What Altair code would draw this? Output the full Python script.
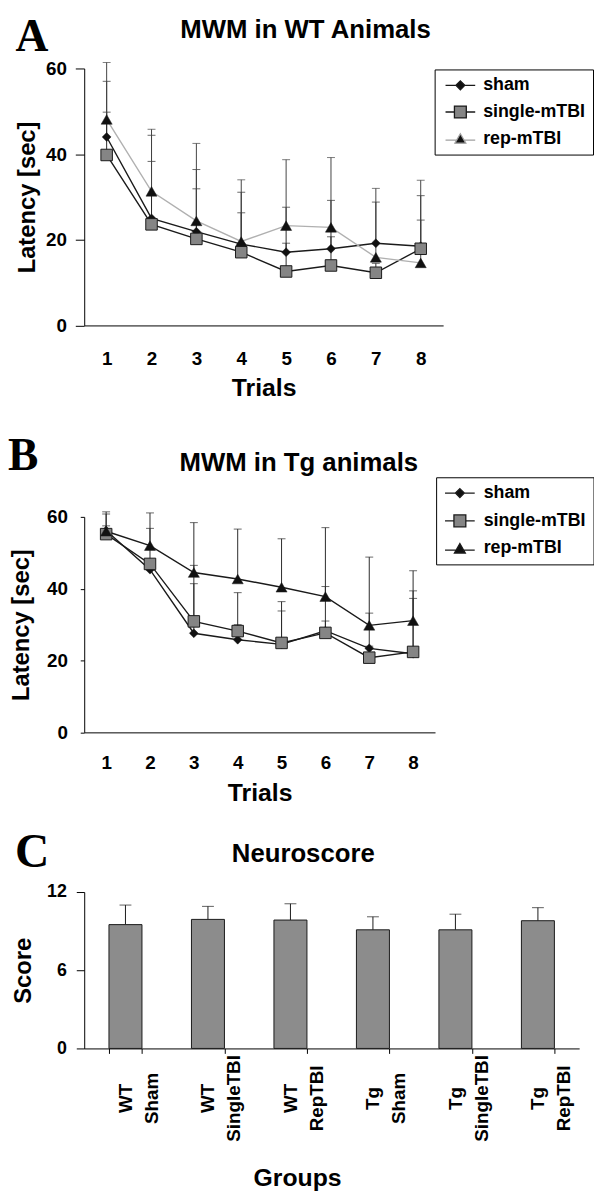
import altair as alt
import pandas as pd

# ---------------- data ----------------
trials = [1, 2, 3, 4, 5, 6, 7, 8]
series = ["sham", "single-mTBI", "rep-mTBI"]

wt_sham = [44.0, 25.0, 21.9, 19.0, 17.1, 17.9, 19.2, 18.5]
wt_single = [39.8, 23.6, 20.2, 17.1, 12.6, 14.0, 12.3, 17.9]
wt_rep = [48.1, 31.3, 24.4, 19.6, 23.3, 22.9, 15.9, 14.6]
wt_sham_up = [57.0, 38.3, 36.4, 31.1, 27.6, 29.2, 28.8, 30.3]
wt_single_up = [49.8, 44.4, 31.9, 26.3, 19.2, 20.7, 14.5, 24.6]
wt_rep_up = [61.4, 45.8, 42.5, 34.0, 38.7, 39.2, 32.0, 33.9]

tg_sham = [56.2, 45.3, 27.6, 25.8, 24.5, 28.3, 23.4, 21.9]
tg_single = [55.2, 46.9, 30.9, 28.2, 24.9, 27.7, 20.8, 22.4]
tg_rep = [56.0, 52.0, 44.5, 42.7, 40.4, 37.8, 29.8, 31.1]
tg_sham_up = [60.8, 48.0, 41.4, 30.0, 33.8, 40.6, 33.2, 37.3]
tg_single_up = [57.5, 56.8, 46.5, 38.9, 36.4, 31.0, 24.0, 39.4]
tg_rep_up = [61.4, 61.1, 58.4, 56.6, 53.9, 57.0, 48.8, 45.0]

groups = ["WT\nSham", "WT\nSingleTBI", "WT\nRepTBI", "Tg\nSham", "Tg\nSingleTBI", "Tg\nRepTBI"]
score = [9.5, 9.9, 9.85, 9.1, 9.1, 9.8]
score_up = [11.0, 10.9, 11.1, 10.1, 10.3, 10.8]

letters = ["A", "B", "C"]
titles = ["MWM in WT Animals", "MWM in Tg animals", "Neuroscore"]

FONT = "Liberation Sans"
SERIF = "Liberation Serif"

LEG_PATHS = [
    "M-3,0H-0.9M0.9,0H3M0,-0.9L0.9,0L0,0.9L-0.9,0Z",
    "M-3,0H-1.2M1.2,0H3M-1.2,-1.2H1.2V1.2H-1.2Z",
    "M-3,0.3H-0.8M0.8,0.3H3M0,-1L1.1,0.9L-1.1,0.9Z",
]


def long_df(means, uppers):
    rows = []
    for s, m, u in zip(series, means, uppers):
        for t, mv, uv in zip(trials, m, u):
            rows.append({"trial": t, "series": s, "mean": mv, "upper": uv})
    return pd.DataFrame(rows)


def text_layer(txt, x, y, size, font, align="left"):
    return alt.Chart(pd.DataFrame({"t": [txt]})).mark_text(
        font=font, fontSize=size, fontWeight="bold", align=align,
        baseline="alphabetic", color="black"
    ).encode(text="t:N", x=alt.value(x), y=alt.value(y))


def line_panel(df, w, h, key, line_colors, err_colors, legend_strokes, legend_kw,
               yaxis_kw, xaxis_kw, letter, letter_xy, title, title_xy):
    X = alt.X("trial:O", scale=alt.Scale(type="point", padding=0.5),
              axis=alt.Axis(title="Trials", labelAngle=0, ticks=False,
                            titleBaseline="alphabetic", labelFontSize=19,
                            titleFontSize=25, **xaxis_kw))
    Y = alt.Y("mean:Q", scale=alt.Scale(domain=[0, 60], nice=False),
              axis=alt.Axis(title="Latency [sec]", values=[0, 20, 40, 60],
                            titleAngle=270, titleBaseline="alphabetic",
                            labelFontSize=19, titleFontSize=24, **yaxis_kw))
    shapes = ["diamond", "square", "triangle-up"]
    fills = ["#111111", "#858585", "#111111"]
    sizes = [80, 135, 125]
    layers = []
    for i, s in enumerate(series):
        base = alt.Chart(df).transform_filter(alt.datum.series == s)
        layers.append(base.mark_rule(color=err_colors[i], strokeWidth=1).encode(
            x=X, y=Y, y2="upper:Q"))
        layers.append(base.mark_tick(color=err_colors[i], thickness=1, size=8).encode(
            x=X, y=alt.Y("upper:Q")))
    for i, s in enumerate(series):
        base = alt.Chart(df).transform_filter(alt.datum.series == s)
        layers.append(base.mark_line(color=line_colors[i], strokeWidth=1.4).encode(x=X, y=Y))
    for i, s in enumerate(series):
        base = alt.Chart(df).transform_filter(alt.datum.series == s)
        layers.append(base.mark_point(shape=shapes[i], filled=True, fill=fills[i],
                                      stroke="#1a1a1a", strokeWidth=1 if i == 1 else 0.5,
                                      size=sizes[i], opacity=1).encode(x=X, y=Y))
    leg = alt.Legend(title=None, orient="none", strokeColor="black", fillColor="white",
                     padding=7, labelFont=FONT, labelFontSize=18, labelFontWeight="bold",
                     labelColor="black", symbolSize=100, symbolStrokeWidth=1.3,
                     cornerRadius=0, **legend_kw)
    leg_layer = alt.Chart(pd.DataFrame({key: series})).transform_filter("false").mark_point(
        filled=True, opacity=1, size=100).encode(
        shape=alt.Shape(f"{key}:N", scale=alt.Scale(domain=series, range=LEG_PATHS), legend=leg),
        fill=alt.Fill(f"{key}:N", scale=alt.Scale(domain=series, range=fills), legend=leg),
        stroke=alt.Stroke(f"{key}:N", scale=alt.Scale(domain=series, range=legend_strokes), legend=leg),
    )
    layers.append(leg_layer)
    layers.append(text_layer(letter, letter_xy[0], letter_xy[1], 46, SERIF))
    layers.append(text_layer(title, title_xy[0], title_xy[1], 26, FONT, align="center"))
    return alt.layer(*layers).properties(width=w, height=h)


panel_a = line_panel(
    long_df([wt_sham, wt_single, wt_rep], [wt_sham_up, wt_single_up, wt_rep_up]),
    362.6, 259.6, "key_a",
    line_colors=["#1a1a1a", "#1a1a1a", "#b0b0b0"],
    err_colors=["#2a2a2a", "#2a2a2a", "#444444"],
    legend_strokes=["#1a1a1a", "#1a1a1a", "#a0a0a0"],
    legend_kw=dict(legendX=354, legendY=1, symbolOffset=10, labelOffset=14, rowPadding=9),
    yaxis_kw=dict(tickSize=9, labelPadding=9, titleX=-50),
    xaxis_kw=dict(labelPadding=24, titleY=71),
    letter=letters[0], letter_xy=(-69.4, -17.7),
    title=titles[0], title_xy=(223.6, -31),
)

panel_b = line_panel(
    long_df([tg_sham, tg_single, tg_rep], [tg_sham_up, tg_single_up, tg_rep_up]),
    354.4, 217.7, "key_b",
    line_colors=["#1a1a1a", "#1a1a1a", "#1a1a1a"],
    err_colors=["#2a2a2a", "#2a2a2a", "#2a2a2a"],
    legend_strokes=["#1a1a1a", "#1a1a1a", "#1a1a1a"],
    legend_kw=dict(legendX=355.5, legendY=-40, symbolOffset=8, labelOffset=15, rowPadding=10),
    yaxis_kw=dict(tickSize=4, labelPadding=13, titleX=-56),
    xaxis_kw=dict(labelPadding=22, titleY=69),
    letter=letters[1], letter_xy=(-77, -47),
    title=titles[1], title_xy=(216.8, -46),
)

dfc = pd.DataFrame({"group": groups, "mean": score, "upper": score_up})
XC = alt.X("group:N", sort=groups,
           scale=alt.Scale(paddingInner=0.6, paddingOuter=0.3),
           axis=alt.Axis(title="Groups", labelAngle=270, labelAlign="center",
                         labelBaseline="middle", labelPadding=45, labelLineHeight=26,
                         labelFontSize=19, labelOverlap=False, tickBand="extent",
                         ticks=True, tickSize=5, labelExpr="split(datum.label, '\\n')",
                         titleX=215, titleY=138, titleBaseline="alphabetic",
                         titleFontSize=25))
YC = alt.Y("mean:Q", scale=alt.Scale(domain=[0, 12], nice=False),
           axis=alt.Axis(title="Score", values=[0, 6, 12], tickSize=8, labelPadding=10,
                         titleAngle=270, titleBaseline="alphabetic", titleX=-54.5,
                         labelFontSize=18, titleFontSize=24))
basec = alt.Chart(dfc)
panel_c = alt.layer(
    basec.mark_rule(color="#1a1a1a", strokeWidth=1).encode(x=XC, y=YC, y2="upper:Q"),
    basec.mark_tick(color="#1a1a1a", thickness=1, size=12).encode(x=XC, y=alt.Y("upper:Q")),
    basec.mark_bar(fill="#8c8c8c", stroke="#1a1a1a", strokeWidth=1).encode(x=XC, y=YC),
    text_layer(letters[2], -70, -25.3, 48, SERIF),
    text_layer(titles[2], 221.3, -30, 26, FONT, align="center"),
).properties(width=500, height=158)

top = alt.concat(panel_a, panel_b, columns=1, spacing=33, align="none").resolve_scale(
    shape="independent", fill="independent", stroke="independent")
chart = alt.concat(top, panel_c, columns=1, spacing=23, align="none").resolve_scale(
    shape="independent", fill="independent", stroke="independent"
).properties(padding=0).configure_axis(
    labelFont=FONT, titleFont=FONT, labelFontWeight="bold", titleFontWeight="bold",
    labelColor="black", titleColor="black", domainColor="black", tickColor="black",
    grid=False, domainWidth=1, tickWidth=1
).configure_view(stroke=None)

chart.save("out.html", embed_options={"renderer": "svg", "actions": False})
